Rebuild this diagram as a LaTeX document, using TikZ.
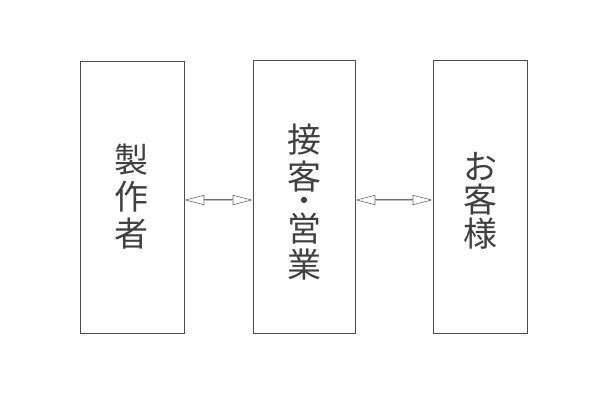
\documentclass[tikz,border=0pt]{standalone}
\usepackage{fontspec}
\newfontfamily\cjk{Noto Sans CJK JP}
\newfontfamily\dvs{DejaVu Sans}
\usetikzlibrary{arrows.meta}
\begin{document}
\begin{tikzpicture}[x=1pt,y=-1pt,
  box/.style={draw=black!70,line width=0.6pt,inner sep=0pt},
  ch/.style={font=\cjk\fontsize{34}{36}\selectfont,text=black!75,inner sep=0pt},
  dotch/.style={font=\dvs\fontsize{8}{9}\selectfont,text=black!75,inner sep=0pt},
  tips/.style={draw=black!60,line width=0.6pt,
    {Triangle[open,length=20pt,width=10pt]}-{Triangle[open,length=20pt,width=10pt]}},
  shaftout/.style={draw=black!55,line width=2.6pt,shorten <=19.5pt,shorten >=19.5pt},
  shaftin/.style={draw=black!25,line width=0.9pt,shorten <=19.5pt,shorten >=19.5pt}]
\useasboundingbox (0,0) rectangle (600,400);
\node[box,minimum width=104pt,minimum height=272pt] (a) at (132,197) {};
\node[box,minimum width=102pt,minimum height=273pt] (b) at (304,196.5) {};
\node[box,minimum width=94pt,minimum height=273pt] (c) at (480,196.5) {};
% left labels
\node[ch] (a1) at (131,160) {製};
\node[ch] (a2) at (131,196.5) {作};
\node[ch] (a3) at (131,233.5) {者};
% middle labels
\node[ch] (b1) at (304,140) {接};
\node[ch] (b2) at (304,176.5) {客};
\node[dotch] (b3) at (304,200) {●};
\node[ch] (b4) at (304,228.5) {営};
\node[ch] (b5) at (304,265) {業};
% right labels
\node[ch] (c1) at (480,166) {お};
\node[ch] (c2) at (480,200) {客};
\node[ch] (c3) at (480,234) {様};
% connectors
\coordinate (ae) at ([yshift=-3pt]a.east);
\coordinate (bw) at ([yshift=-3.5pt]b.west);
\coordinate (be) at ([yshift=-3.5pt]b.east);
\coordinate (cw) at ([yshift=-3.5pt]c.west);
\draw[tips] (ae) -- (bw);
\draw[shaftout] (ae) -- (bw);
\draw[shaftin] (ae) -- (bw);
\draw[tips] (be) -- (cw);
\draw[shaftout] (be) -- (cw);
\draw[shaftin] (be) -- (cw);
\end{tikzpicture}
\end{document}
